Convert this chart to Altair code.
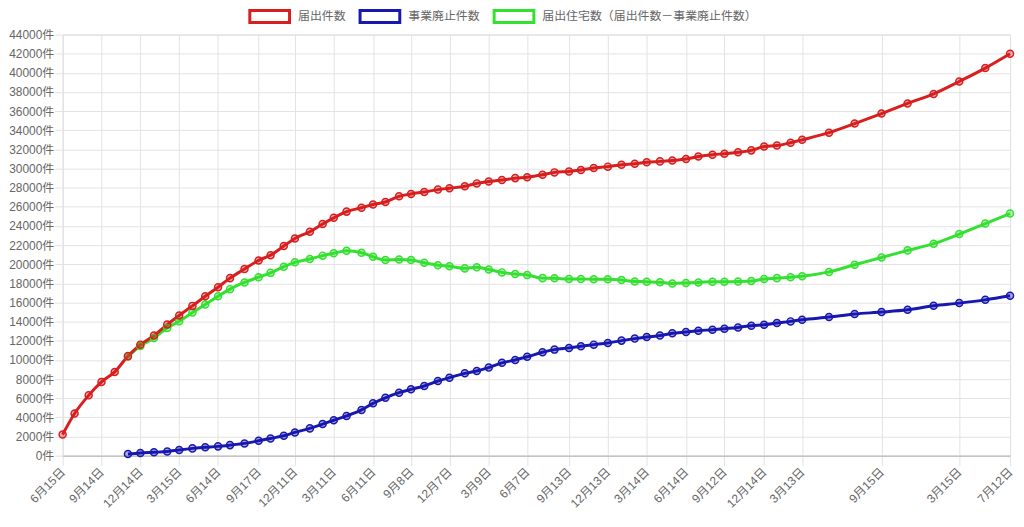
import altair as alt
import pandas as pd

FONT = "Liberation Sans, Noto Sans CJK JP"

dates = [
    "2018-06-15", "2018-07-13", "2018-08-15", "2018-09-14", "2018-10-15", "2018-11-15", "2018-12-14",
    "2019-01-15", "2019-02-15", "2019-03-15", "2019-04-15", "2019-05-15", "2019-06-14",
    "2019-07-12", "2019-08-15", "2019-09-17", "2019-10-15", "2019-11-15", "2019-12-11",
    "2020-01-15", "2020-02-14", "2020-03-11", "2020-04-10", "2020-05-15", "2020-06-11",
    "2020-07-10", "2020-08-11", "2020-09-08", "2020-10-09", "2020-11-10", "2020-12-07",
    "2021-01-12", "2021-02-09", "2021-03-09", "2021-04-09", "2021-05-10", "2021-06-07",
    "2021-07-13", "2021-08-10", "2021-09-13", "2021-10-11", "2021-11-10", "2021-12-13",
    "2022-01-14", "2022-02-14", "2022-03-14", "2022-04-14", "2022-05-13", "2022-06-14",
    "2022-07-13", "2022-08-15", "2022-09-12", "2022-10-14", "2022-11-14", "2022-12-14",
    "2023-01-13", "2023-02-14", "2023-03-13", "2023-05-15", "2023-07-14", "2023-09-15",
    "2023-11-15", "2024-01-15", "2024-03-15", "2024-05-15", "2024-07-12",
]

red = [
    2200, 4400, 6300, 7700, 8750, 10400, 11600, 12550, 13700, 14650,
    15650, 16650, 17600, 18550, 19500, 20400, 20950, 21900, 22700, 23400,
    24200, 24850, 25500, 25900, 26250, 26500, 27100, 27350, 27550, 27800,
    27950, 28150, 28450, 28650, 28800, 29000, 29100, 29350, 29600, 29700,
    29850, 30050, 30200, 30400, 30500, 30650, 30750, 30850, 31000, 31250,
    31450, 31550, 31700, 31900, 32300, 32400, 32700, 33000, 33750, 34700,
    35750, 36800, 37800, 39100, 40500, 42000,
]

blue = [
    170, 280, 350, 430, 600, 760, 870, 970, 1100, 1280,
    1550, 1800, 2080, 2430, 2850, 3300, 3700, 4150, 4780, 5470,
    6050, 6580, 6930, 7280, 7800, 8150, 8600, 8850, 9200, 9700,
    10000, 10330, 10800, 11080, 11260, 11430, 11600, 11780, 12020, 12230,
    12400, 12550, 12780, 12920, 13060, 13160, 13270, 13400, 13580, 13680,
    13860, 14030, 14200, 14480, 14800, 15000, 15240, 15660, 15940, 16280,
    16700,
]

green = [
    10350, 11450, 12300, 13350, 14050, 14950, 15800, 16650, 17400, 18100,
    18650, 19100, 19750, 20200, 20550, 20900, 21150, 21400, 21200, 20780,
    20450, 20500, 20450, 20150, 19900, 19800, 19570, 19680, 19450, 19150,
    18980, 18880, 18550, 18530, 18460, 18460, 18430, 18430, 18360, 18200,
    18180, 18120, 18000, 18050, 18100, 18180, 18180, 18200, 18250, 18450,
    18550, 18650, 18750, 19200, 19950, 20700, 21450, 22150, 23150, 24250,
    25300,
]

tick_dates = [
    "2018-06-15", "2018-09-14", "2018-12-14", "2019-03-15", "2019-06-14", "2019-09-17",
    "2019-12-11", "2020-03-11", "2020-06-11", "2020-09-08", "2020-12-07", "2021-03-09",
    "2021-06-07", "2021-09-13", "2021-12-13", "2022-03-14", "2022-06-14", "2022-09-12",
    "2022-12-14", "2023-03-13", "2023-09-15", "2024-03-15", "2024-07-12",
]

series_names = ["届出件数", "事業廃止件数", "届出住宅数（届出件数－事業廃止件数）"]
series_colors = ["#d81e1e", "#1818b0", "#34e030"]


def ms(d):
    return int(pd.Timestamp(d, tz="UTC").value // 10**6)


rows = []
for name, vals in [(series_names[2], green), (series_names[1], blue), (series_names[0], red)]:
    off = len(dates) - len(vals)
    for d, v in zip(dates[off:], vals):
        rows.append({"date": ms(d), "series": name, "series_f": name, "value": v})
df = pd.DataFrame(rows)

tick_ms = [ms(d) for d in tick_dates]

xscale = alt.Scale(type="utc", domain=[ms(dates[0]), ms(dates[-1])], nice=False)
yscale = alt.Scale(domain=[0, 44000], nice=False)
cscale = alt.Scale(domain=series_names, range=series_colors)
fscale = alt.Scale(domain=series_names, range=series_colors)

legend = alt.Legend(
    orient="none", legendX=187, legendY=-40, direction="horizontal", title=None,
    symbolType="M-1,-0.3L1,-0.3L1,0.3L-1,0.3Z", symbolSize=1600, symbolStrokeWidth=3,
    symbolFillColor="#ffffff", labelFontSize=12, labelColor="#666666", labelFont=FONT,
    labelLimit=400, columnPadding=7, labelOffset=7,
)

xaxis = alt.Axis(
    values=tick_ms,
    labelExpr="utcFormat(datum.value, '%-m') + '月' + utcFormat(datum.value, '%-d') + '日'",
    labelAngle=-45, labelAlign="right", labelBaseline="middle", labelFontSize=12,
    labelColor="#666666", labelFont=FONT, labelPadding=4, tickSize=10,
    tickColor="#e3e3e3", gridColor="#e3e3e3", domainColor="#c4c4c4", domainWidth=1.5,
    labelOverlap=False, title=None,
)
yaxis = alt.Axis(
    values=list(range(0, 44001, 2000)), labelExpr="datum.value + '件'",
    labelFontSize=12, labelColor="#666666", labelFont=FONT, labelPadding=1,
    tickSize=8, tickColor="#e3e3e3", gridColor="#e3e3e3", domain=False, title=None,
)

base = alt.Chart(df).encode(
    x=alt.X("date:T", scale=xscale, axis=xaxis),
    y=alt.Y("value:Q", scale=yscale, axis=yaxis),
    color=alt.Color("series:N", scale=cscale, legend=legend),
    detail="series:N",
)

lines = base.mark_line(strokeWidth=3, interpolate="monotone")
points = base.mark_point(shape="circle", filled=False, size=50, strokeWidth=1.5,
                         fillOpacity=0.35, opacity=1).encode(
    fill=alt.Fill("series_f:N", scale=fscale, legend=None),
)

chart = (lines + points).resolve_scale(fill="independent").properties(
    width=954, height=424,
    autosize=alt.AutoSizeParams(type="none"),
    padding={"left": 55, "top": 25, "right": 6, "bottom": 58},
).configure_view(stroke=None).configure(font=FONT)

chart.save("out.html", embed_options={"renderer": "svg", "actions": False})
